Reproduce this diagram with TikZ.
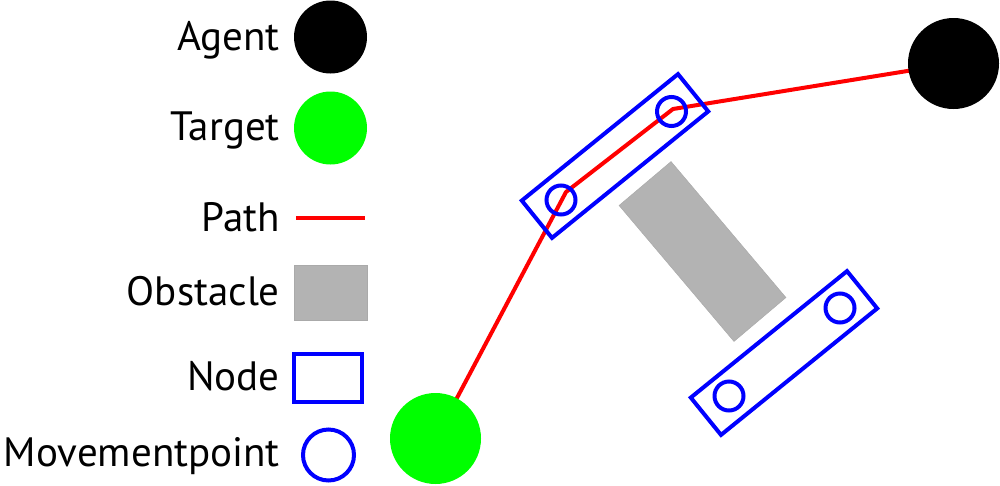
\documentclass[tikz,border=0pt]{standalone}
\usepackage{fontspec}
\setmainfont{PT Sans}
\usetikzlibrary{backgrounds}
\definecolor{pathred}{HTML}{FF0000}
\definecolor{nodeblue}{HTML}{0000FF}
\definecolor{targetgreen}{HTML}{00FF00}
\definecolor{obstgray}{HTML}{B3B3B3}
\begin{document}
\begin{tikzpicture}[x=1pt,y=1pt,
  lbl/.style={anchor=base east, inner sep=0pt, font=\fontsize{41}{46}\selectfont},
  agentdot/.style={circle, fill=black, inner sep=0pt, minimum size=#1},
  targetdot/.style={circle, fill=targetgreen, inner sep=0pt, minimum size=#1},
  obstbox/.style={rectangle, fill=obstgray, draw=obstgray!95!black, line width=0.5pt, inner sep=0pt},
  nodebox/.style={rectangle, draw=nodeblue, line width=4pt, inner sep=0pt},
  mpoint/.style={circle, draw=nodeblue, line width=4pt, inner sep=0pt, minimum size=#1},
  pathline/.style={draw=pathred, line width=4pt}
]
\useasboundingbox (0,0) rectangle (1000,-485);

% legend
\node[lbl] (tAgent) at (280,-50) {Agent};
\node[agentdot=73pt] (lAgent) at (330.5,-37) {};
\node[lbl] (tTarget) at (280,-140) {Target};
\node[targetdot=73pt] (lTarget) at (330.5,-128) {};
\node[lbl] (tPath) at (280,-231) {Path};
\coordinate (lPathA) at (296,-218);
\coordinate (lPathB) at (365,-218);
\draw[pathline] (lPathA) -- (lPathB);
\node[lbl] (tObst) at (280,-305) {Obstacle};
\node[obstbox, minimum width=73pt, minimum height=55pt] (lObst) at (330.5,-292.5) {};
\node[lbl] (tNode) at (280,-390) {Node};
\node[nodebox, minimum width=68pt, minimum height=48pt] (lNode) at (328,-378) {};
\node[lbl] (tMove) at (280,-466) {Movementpoint};
\node[mpoint=51pt] (lMove) at (328.5,-455) {};

% scene
\node[obstbox, rotate=-49.8, minimum width=178pt, minimum height=68pt] (obst) at (702.5,-251.5) {};
\node[agentdot=91pt] (agent) at (953.5,-63.5) {};
\node[targetdot=91pt] (target) at (435.5,-438.5) {};
\coordinate (bendA) at (566,-192);
\coordinate (bendB) at (673,-109);
\begin{scope}[on background layer]
\draw[pathline, line join=round] (target.center) -- (bendA) -- (bendB) -- (agent.center);
\end{scope}

\node[nodebox, rotate=39, minimum width=201pt, minimum height=48pt] (nodeA) at (615,-156) {};
\node[nodebox, rotate=39, minimum width=201pt, minimum height=48pt] (nodeB) at (784,-353) {};
\node[mpoint=29pt] (mp1) at (671.5,-111.5) {};
\node[mpoint=29pt] (mp2) at (561,-200) {};
\node[mpoint=29pt] (mp3) at (840,-308) {};
\node[mpoint=29pt] (mp4) at (729,-396) {};
\end{tikzpicture}
\end{document}
